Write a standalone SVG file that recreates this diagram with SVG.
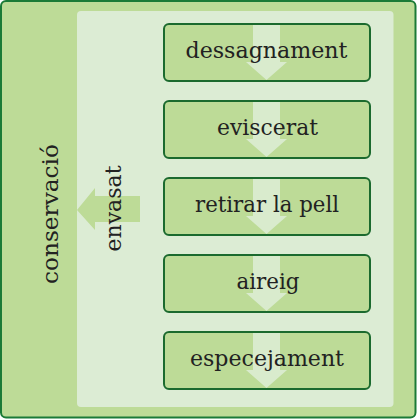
<svg xmlns="http://www.w3.org/2000/svg" width="417" height="420" viewBox="0 0 417 420">
  <style>
    .outer { fill: #bddb97; stroke: #1b7a37; stroke-width: 2; }
    .panel { fill: #dcecd4; }
    .boxfill { fill: #bddb97; }
    .boxstroke { fill: none; stroke: #1b6a2e; stroke-width: 2; }
    .flow { fill: #d9ebcd; }
    .larrow { fill: #bddb97; }
    .lbl { font-family: "DejaVu Serif", "Liberation Serif", serif; font-size: 22px; fill: #222222; }
  </style>
  <defs>
    <path id="down" d="M-13.5,0 H13.5 V38 H20.5 L0,56 L-20.5,38 H-13.5 Z"/>
  </defs>
  <g id="conservacio">
    <rect class="outer" x="1" y="1" width="414.5" height="416.5" rx="5"/>
    <text class="lbl" transform="translate(58,214) rotate(-90)" text-anchor="middle" textLength="140" lengthAdjust="spacingAndGlyphs">conservació</text>
  </g>
  <g id="envasat">
    <rect class="panel" x="77" y="11" width="316.5" height="396" rx="4"/>
    <path class="larrow" d="M140,196 V222 H95 V230 L77,210 L95,188 V196 Z"/>
    <text class="lbl" transform="translate(120.5,208.5) rotate(-90)" text-anchor="middle" textLength="86" lengthAdjust="spacingAndGlyphs">envasat</text>
  </g>
  <g id="connectors"></g>
  <g id="dessagnament">
    <rect class="boxfill" x="164" y="24" width="206" height="57" rx="5"/>
    <use href="#down" class="flow" x="266.5" y="24"/>
    <rect class="boxstroke" x="164" y="24" width="206" height="57" rx="5"/>
    <text class="lbl" x="266.5" y="58" text-anchor="middle" textLength="162" lengthAdjust="spacingAndGlyphs">dessagnament</text>
  </g>
  <g id="eviscerat">
    <rect class="boxfill" x="164" y="101" width="206" height="57" rx="5"/>
    <use href="#down" class="flow" x="266.5" y="101"/>
    <rect class="boxstroke" x="164" y="101" width="206" height="57" rx="5"/>
    <text class="lbl" x="267.5" y="135" text-anchor="middle" textLength="101" lengthAdjust="spacingAndGlyphs">eviscerat</text>
  </g>
  <g id="retirar">
    <rect class="boxfill" x="164" y="178" width="206" height="57" rx="5"/>
    <use href="#down" class="flow" x="266.5" y="178"/>
    <rect class="boxstroke" x="164" y="178" width="206" height="57" rx="5"/>
    <text class="lbl" x="267" y="212" text-anchor="middle" textLength="144" lengthAdjust="spacingAndGlyphs">retirar la pell</text>
  </g>
  <g id="aireig">
    <rect class="boxfill" x="164" y="255" width="206" height="57" rx="5"/>
    <use href="#down" class="flow" x="266.5" y="255"/>
    <rect class="boxstroke" x="164" y="255" width="206" height="57" rx="5"/>
    <text class="lbl" x="268" y="289" text-anchor="middle" textLength="63" lengthAdjust="spacingAndGlyphs">aireig</text>
  </g>
  <g id="especejament">
    <rect class="boxfill" x="164" y="332" width="206" height="57" rx="5"/>
    <use href="#down" class="flow" x="266.5" y="332"/>
    <rect class="boxstroke" x="164" y="332" width="206" height="57" rx="5"/>
    <text class="lbl" x="267" y="366" text-anchor="middle" textLength="154" lengthAdjust="spacingAndGlyphs">especejament</text>
  </g>
</svg>
